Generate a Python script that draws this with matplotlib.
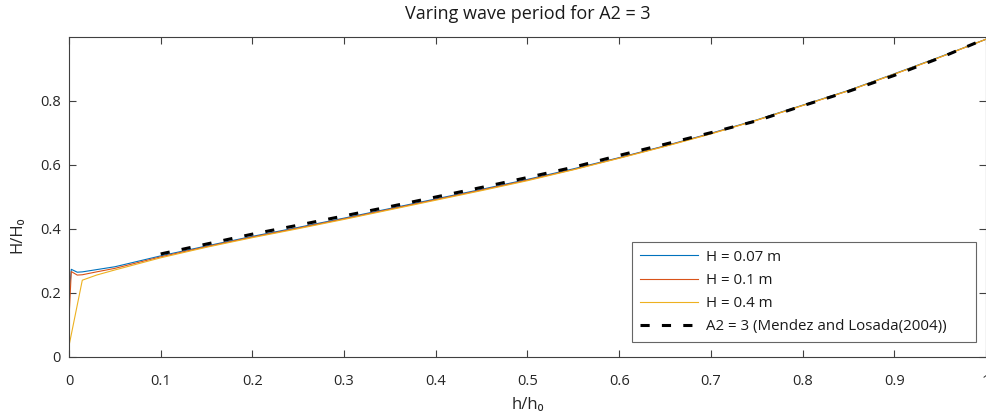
import matplotlib
matplotlib.use("Agg")
import matplotlib.pyplot as plt

# ---- data ----
h_blue = [0.0, 0.0025, 0.009, 0.0145, 0.03, 0.05, 0.1, 0.15, 0.2, 0.25, 0.3, 0.35, 0.4,
          0.45, 0.5, 0.55, 0.6, 0.65, 0.7, 0.75, 0.8, 0.85, 0.9, 0.95, 1.0]
H_blue = [0.19, 0.274, 0.265, 0.266, 0.273, 0.282, 0.316, 0.347, 0.377, 0.405, 0.434, 0.464,
          0.494, 0.524, 0.555, 0.588, 0.623, 0.660, 0.699, 0.741, 0.787, 0.833, 0.885, 0.938, 0.993]

h_red = [0.0, 0.0025, 0.009, 0.0145, 0.03, 0.05, 0.1, 0.15, 0.2, 0.25, 0.3, 0.35, 0.4,
         0.45, 0.5, 0.55, 0.6, 0.65, 0.7, 0.75, 0.8, 0.85, 0.9, 0.95, 1.0]
H_red = [0.12, 0.267, 0.256, 0.257, 0.266, 0.277, 0.313, 0.345, 0.375, 0.403, 0.432, 0.462,
         0.492, 0.522, 0.553, 0.586, 0.622, 0.659, 0.698, 0.740, 0.786, 0.832, 0.884, 0.937, 0.993]

h_yel = [0.0, 0.0145, 0.03, 0.05, 0.1, 0.15, 0.2, 0.25, 0.3, 0.35, 0.4,
         0.45, 0.5, 0.55, 0.6, 0.65, 0.7, 0.75, 0.8, 0.85, 0.9, 0.95, 1.0]
H_yel = [0.035, 0.240, 0.256, 0.272, 0.310, 0.343, 0.373, 0.401, 0.430, 0.460,
         0.490, 0.520, 0.551, 0.585, 0.621, 0.658, 0.697, 0.740, 0.786, 0.832, 0.884, 0.937, 0.993]

h_ref = [0.1, 0.15, 0.2, 0.25, 0.3, 0.35, 0.4, 0.45, 0.5, 0.55, 0.6, 0.65, 0.7,
         0.75, 0.8, 0.85, 0.9, 0.95, 1.0]
H_ref = [0.322, 0.353, 0.384, 0.412, 0.441, 0.470, 0.500, 0.530, 0.561, 0.593, 0.630,
         0.665, 0.701, 0.738, 0.785, 0.830, 0.880, 0.935, 0.995]

labels = ["H = 0.07 m", "H = 0.1 m", "H = 0.4 m", "A2 = 3 (Mendez and Losada(2004))"]
x_ticks = [0, 0.1, 0.2, 0.3, 0.4, 0.5, 0.6, 0.7, 0.8, 0.9, 1]
x_ticklabels = ["0", "0.1", "0.2", "0.3", "0.4", "0.5", "0.6", "0.7", "0.8", "0.9", "1"]
y_ticks = [0, 0.2, 0.4, 0.6, 0.8]
y_ticklabels = ["0", "0.2", "0.4", "0.6", "0.8"]

# ---- style ----
plt.rcParams['font.family'] = ['Open Sans', 'DejaVu Sans']
ax_col = '#404040'

fig = plt.figure(figsize=(9.87, 4.16), dpi=100)
ax = fig.add_axes([69/987, (416-357)/416, (986-69)/987, (357-37)/416])

c_blue = (0.0, 0.447, 0.741)
c_red = (0.85, 0.325, 0.098)
c_yel = (0.929, 0.694, 0.125)

ax.plot(h_blue, H_blue, color=c_blue, lw=0.8, label=labels[0])
ax.plot(h_red, H_red, color=c_red, lw=0.8, label=labels[1])
ax.plot(h_yel, H_yel, color=c_yel, lw=0.8, label=labels[2])
ax.plot(h_ref, H_ref, color='black', lw=2.2, ls=(0, (3, 4.0)), label=labels[3])

ax.set_xlim(0, 1)
ax.set_ylim(0, 1)
ax.set_xticks(x_ticks)
ax.set_xticklabels(x_ticklabels)
ax.set_yticks(y_ticks)
ax.set_yticklabels(y_ticklabels)

for s in ax.spines.values():
    s.set_color(ax_col)
    s.set_linewidth(0.8)
ax.tick_params(direction='in', length=5, width=0.8, colors=ax_col, labelsize=10.5,
               top=True, right=True)
ax.tick_params(axis='x', pad=12)
ax.tick_params(axis='y', pad=6)
for t in ax.get_xticklabels() + ax.get_yticklabels():
    t.set_color('#262626')

ax.set_title("Varing wave period for A2 = 3", fontsize=13, color='#1a1a1a', pad=13)
ax.set_xlabel("h/h₀", fontsize=12, color='#262626', labelpad=6)
ax.set_ylabel("H/H₀", fontsize=12, color='#262626')
ax.yaxis.set_label_coords((25-69)/917, (357-235)/320)

leg = ax.legend(loc='lower left', bbox_to_anchor=(0.614, 0.047, 0.375, 0.315),
                mode='expand', fontsize=10.8,
                frameon=True, fancybox=False, handlelength=3.9, handletextpad=0.5,
                borderpad=0.5, labelspacing=0.55, borderaxespad=0)
leg.get_frame().set_edgecolor(ax_col)
leg.get_frame().set_linewidth(0.8)
for t in leg.get_texts():
    t.set_color('#1a1a1a')

fig.savefig("out.png", dpi=100)
